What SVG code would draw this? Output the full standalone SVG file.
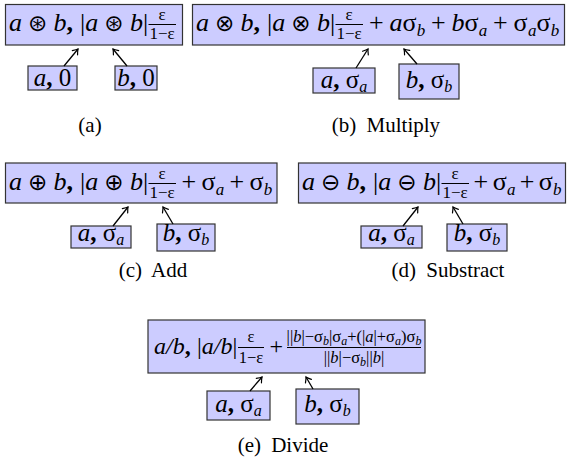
<svg xmlns="http://www.w3.org/2000/svg" width="568" height="464" viewBox="0 0 568 464">
<defs>
<style>
.box{fill:#ccccff;stroke:#333;stroke-width:1.2}
.m{font-family:"Liberation Serif",serif;font-size:26px;fill:#000}
.sm{font-family:"Liberation Serif",serif;font-size:25px;fill:#000}
.e{font-size:24px}
.i{font-style:italic}
.b{font-weight:bold}
.op{font-family:"DejaVu Sans",sans-serif;font-size:23px}
.f{font-size:17px}
.f16{font-size:16.5px}
.s{font-size:17px;font-style:italic}
.s16{font-size:16px;font-style:italic}
.s12{font-size:12px;font-style:italic}
.bar{stroke:#000;stroke-width:1}
.cap{font-family:"Liberation Serif",serif;font-size:21px;fill:#000}
.conn line{stroke:#000;stroke-width:1.3;marker-end:url(#ah)}
</style>
<marker id="ah" viewBox="-6 -5 8 10" refX="0" refY="0" markerWidth="8" markerHeight="10" markerUnits="userSpaceOnUse" orient="auto">
<path d="M-4.8,-3.4 Q-1.6,-0.8 0,0 Q-1.6,0.8 -4.8,3.4" fill="none" stroke="#000" stroke-width="1.2" stroke-linecap="round"/>
</marker>
</defs>
<rect width="568" height="464" fill="#fff"/>

<!-- (a) -->
<g id="a-top">
<rect class="box" x="5.5" y="4.5" width="177" height="40.5"/>
<text class="m" y="31"><tspan class="i" x="9">a</tspan><tspan class="op" x="28">⊛</tspan><tspan class="i" x="53.6">b</tspan><tspan class="b" x="66.6">,</tspan><tspan x="80.1">|</tspan><tspan class="i" x="85.3">a</tspan><tspan class="op" x="104.3">⊛</tspan><tspan class="i" x="129.9">b</tspan><tspan x="142.9">|</tspan></text>
<text class="m f" x="162.1" y="20" text-anchor="middle">ε</text>
<line class="bar" x1="148.5" y1="24.5" x2="176" y2="24.5"/>
<text class="m f" x="162.1" y="38.5" text-anchor="middle">1−ε</text>
</g>
<g id="a-a">
<rect class="box" x="28" y="66" width="49" height="24"/>
<text class="sm" x="52.5" y="86" text-anchor="middle"><tspan class="i">a</tspan><tspan class="b">, </tspan>0</text>
</g>
<g id="a-b">
<rect class="box" x="115" y="66" width="42" height="24"/>
<text class="sm" x="136" y="86" text-anchor="middle"><tspan class="i">b</tspan><tspan class="b">, </tspan>0</text>
</g>

<!-- (b) -->
<g id="b-top">
<rect class="box" x="192.5" y="4.5" width="372" height="40.5"/>
<text class="m" y="31"><tspan class="i" x="196">a</tspan><tspan class="op" x="215">⊗</tspan><tspan class="i" x="240.6">b</tspan><tspan class="b" x="253.6">,</tspan><tspan x="267.1">|</tspan><tspan class="i" x="272.3">a</tspan><tspan class="op" x="291.3">⊗</tspan><tspan class="i" x="316.9">b</tspan><tspan x="329.9">|</tspan><tspan x="368.9">+</tspan><tspan class="i" x="389.4">a</tspan><tspan x="402.4">σ</tspan><tspan class="s" x="416.7" y="36">b</tspan><tspan x="431" y="31">+</tspan><tspan class="i" x="451.5">b</tspan><tspan x="464.5">σ</tspan><tspan class="s" x="478.8" y="36">a</tspan><tspan x="493.1" y="31">+</tspan><tspan x="513.6">σ</tspan><tspan class="s" x="527.9" y="36">a</tspan><tspan x="536.4" y="31">σ</tspan><tspan class="s" x="550.7" y="36">b</tspan></text>
<text class="m f" x="349.1" y="20" text-anchor="middle">ε</text>
<line class="bar" x1="335.5" y1="24.5" x2="363" y2="24.5"/>
<text class="m f" x="349.1" y="38.5" text-anchor="middle">1−ε</text>
</g>
<g id="b-a">
<rect class="box" x="313" y="68" width="62" height="25"/>
<text class="sm" x="344" y="88" text-anchor="middle"><tspan class="i">a</tspan><tspan class="b">, </tspan>σ<tspan class="s16" dy="4">a</tspan></text>
</g>
<g id="b-b">
<rect class="box" x="399" y="64" width="60" height="35"/>
<text class="sm" x="429" y="88" text-anchor="middle"><tspan class="i">b</tspan><tspan class="b">, </tspan>σ<tspan class="s16" dy="4">b</tspan></text>
</g>

<!-- (c) -->
<g id="c-top">
<rect class="box" x="5.5" y="163" width="271.5" height="40"/>
<text class="m" y="190"><tspan class="i" x="9">a</tspan><tspan class="op" x="28">⊕</tspan><tspan class="i" x="53.6">b</tspan><tspan class="b" x="66.6">,</tspan><tspan x="80.1">|</tspan><tspan class="i" x="85.3">a</tspan><tspan class="op" x="104.3">⊕</tspan><tspan class="i" x="129.9">b</tspan><tspan x="142.9">|</tspan><tspan x="181.5">+</tspan><tspan x="201.5">σ</tspan><tspan class="s" x="215.8" y="195">a</tspan><tspan x="229.5" y="190">+</tspan><tspan x="249.5">σ</tspan><tspan class="s" x="263.8" y="195">b</tspan></text>
<text class="m f" x="162.1" y="179" text-anchor="middle">ε</text>
<line class="bar" x1="148.5" y1="183.5" x2="176" y2="183.5"/>
<text class="m f" x="162.1" y="197.5" text-anchor="middle">1−ε</text>
</g>
<g id="c-a">
<rect class="box" x="71" y="226" width="60" height="22"/>
<text class="sm" x="101" y="241" text-anchor="middle"><tspan class="i">a</tspan><tspan class="b">, </tspan>σ<tspan class="s16" dy="4">a</tspan></text>
</g>
<g id="c-b">
<rect class="box" x="157" y="224" width="58" height="27"/>
<text class="sm" x="186" y="241" text-anchor="middle"><tspan class="i">b</tspan><tspan class="b">, </tspan>σ<tspan class="s16" dy="4">b</tspan></text>
</g>

<!-- (d) -->
<g id="d-top">
<rect class="box" x="298.5" y="163" width="267" height="40"/>
<text class="m" y="190"><tspan class="i" x="302">a</tspan><tspan class="op" x="321">⊖</tspan><tspan class="i" x="346.6">b</tspan><tspan class="b" x="359.6">,</tspan><tspan x="373.1">|</tspan><tspan class="i" x="378.3">a</tspan><tspan class="op" x="397.3">⊖</tspan><tspan class="i" x="422.9">b</tspan><tspan x="435.9">|</tspan><tspan x="473.5">+</tspan><tspan x="492.7">σ</tspan><tspan class="s" x="507" y="195">a</tspan><tspan x="519.8" y="190">+</tspan><tspan x="538.8">σ</tspan><tspan class="s" x="553.1" y="195">b</tspan></text>
<text class="m f" x="455.1" y="179" text-anchor="middle">ε</text>
<line class="bar" x1="441.5" y1="183.5" x2="469" y2="183.5"/>
<text class="m f" x="455.1" y="197.5" text-anchor="middle">1−ε</text>
</g>
<g id="d-a">
<rect class="box" x="361" y="226" width="61" height="22"/>
<text class="sm" x="391.5" y="241" text-anchor="middle"><tspan class="i">a</tspan><tspan class="b">, </tspan>σ<tspan class="s16" dy="4">a</tspan></text>
</g>
<g id="d-b">
<rect class="box" x="447" y="224" width="60" height="27"/>
<text class="sm" x="477" y="241" text-anchor="middle"><tspan class="i">b</tspan><tspan class="b">, </tspan>σ<tspan class="s16" dy="4">b</tspan></text>
</g>

<!-- (e) -->
<g id="e-top">
<rect class="box" x="148" y="320" width="277" height="53"/>
<text class="m e" y="354"><tspan class="i" x="154">a</tspan><tspan class="i" x="166">/</tspan><tspan class="i" x="172.7">b</tspan><tspan class="b" x="184.7">,</tspan><tspan x="197">|</tspan><tspan class="i" x="201.8">a</tspan><tspan class="i" x="213.8">/</tspan><tspan class="i" x="220.5">b</tspan><tspan x="232.5">|</tspan><tspan x="269.5">+</tspan></text>
<text class="m f16" x="251" y="342" text-anchor="middle">ε</text>
<line class="bar" x1="238" y1="347.5" x2="264" y2="347.5"/>
<text class="m f16" x="251" y="363" text-anchor="middle">1−ε</text>
<text class="m f16" x="354" y="342" text-anchor="middle">||<tspan class="i">b</tspan>|−σ<tspan class="s12" dy="3">b</tspan><tspan dy="-3">|σ</tspan><tspan class="s12" dy="3">a</tspan><tspan dy="-3">+(|</tspan><tspan class="i">a</tspan>|+σ<tspan class="s12" dy="3">a</tspan><tspan dy="-3">)σ</tspan><tspan class="s12" dy="3">b</tspan></text>
<line class="bar" x1="287" y1="347.5" x2="421" y2="347.5"/>
<text class="m f16" x="354" y="363" text-anchor="middle">||<tspan class="i">b</tspan>|−σ<tspan class="s12" dy="3">b</tspan><tspan dy="-3">||</tspan><tspan class="i">b</tspan>|</text>
</g>
<g id="e-a">
<rect class="box" x="207" y="391" width="63" height="29"/>
<text class="sm" x="238.5" y="412" text-anchor="middle"><tspan class="i">a</tspan><tspan class="b">, </tspan>σ<tspan class="s16" dy="4">a</tspan></text>
</g>
<g id="e-b">
<rect class="box" x="296" y="389" width="63" height="35"/>
<text class="sm" x="327.5" y="412" text-anchor="middle"><tspan class="i">b</tspan><tspan class="b">, </tspan>σ<tspan class="s16" dy="4">b</tspan></text>
</g>

<g id="connectors" class="conn">
<line x1="64" y1="66" x2="78" y2="49"/>
<line x1="127" y1="66" x2="113" y2="49"/>
<line x1="356" y1="68" x2="368" y2="49"/>
<line x1="417" y1="64" x2="404" y2="49"/>
<line x1="113" y1="226" x2="128" y2="207"/>
<line x1="173" y1="224" x2="163" y2="207"/>
<line x1="403" y1="226" x2="418" y2="207"/>
<line x1="463" y1="224" x2="453" y2="207"/>
<line x1="250" y1="391" x2="262" y2="377"/>
<line x1="313" y1="389" x2="306" y2="377"/>
</g>

<g id="captions" class="cap" text-anchor="middle">
<text x="90" y="132">(a)</text>
<text x="386" y="132">(b)<tspan dx="5"> Multiply</tspan></text>
<text x="153" y="277">(c)<tspan dx="5"> Add</tspan></text>
<text x="448" y="277">(d)<tspan dx="5"> Substract</tspan></text>
<text x="283" y="452">(e)<tspan dx="5"> Divide</tspan></text>
</g>
</svg>
